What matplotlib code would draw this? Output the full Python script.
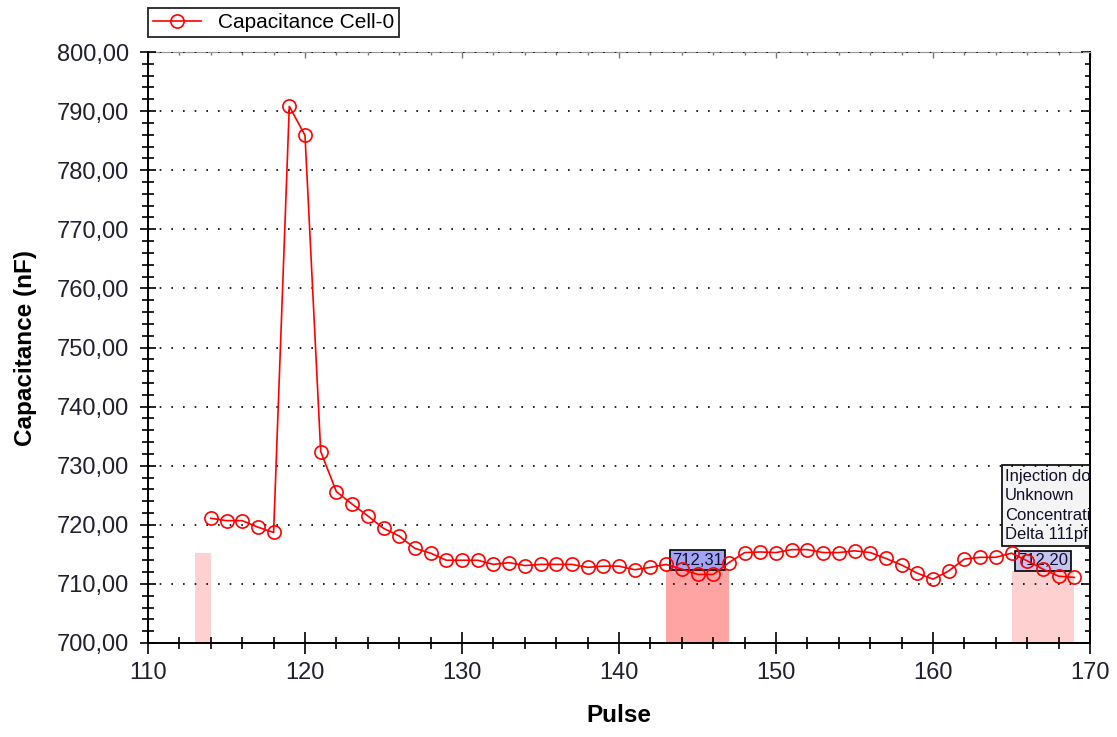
import matplotlib.pyplot as plt
import numpy as np
from matplotlib.ticker import MultipleLocator, FormatStrFormatter

plt.rcParams['font.family'] = ['Liberation Sans', 'DejaVu Sans']

# data
pulse = list(range(114, 170))
capacitance = [721.1, 720.7, 720.7, 719.6, 718.7, 790.8, 785.9, 732.4, 725.6, 723.5,
               721.5, 719.4, 718.1, 716.0, 715.2, 714.0, 714.0, 714.0, 713.3, 713.6,
               713.1, 713.3, 713.3, 713.3, 712.8, 713.0, 713.0, 712.4, 712.8, 713.3,
               712.5, 711.6, 711.6, 713.6, 715.3, 715.4, 715.3, 715.8, 715.8, 715.3,
               715.3, 715.6, 715.3, 714.3, 713.2, 711.8, 710.8, 712.2, 714.2, 714.5,
               714.5, 715.2, 713.9, 712.5, 711.3, 711.1]

region_start = [113, 143, 165]
region_end = [114, 147, 169]
region_top = [715.2, 712.31, 712.20]
region_color = ['#ffd0d0', '#ffa3a3', '#ffd0d0']

marker_pos = [145, 167]
marker_val = [712.31, 712.20]
marker_text = ['712,31', '712,20']
marker_face = ['#a4a4f4', '#c4c4ee']

note_lines = ['Injection done', 'Unknown', 'Concentration', 'Delta 111pf']

fig = plt.figure(figsize=(11.17, 7.37), dpi=100)
ax = fig.add_axes([148/1117, 1-643/737, (1090-148)/1117, (643-52)/737])

for s, e, t, c in zip(region_start, region_end, region_top, region_color):
    ax.bar(s, t - 700, width=e - s, bottom=700, align='edge', color=c, zorder=1)

for x, v, txt, fc in zip(marker_pos, marker_val, marker_text, marker_face):
    ax.text(x, v + 0.45, txt, ha='center', va='bottom', fontsize=12, color='#10102a',
            bbox=dict(boxstyle='square,pad=0.15', facecolor=fc, edgecolor='black', linewidth=1.2),
            zorder=2)

ax.text(164.6, 729.5, '\n'.join(note_lines), ha='left', va='top', fontsize=12,
        linespacing=1.38, color='#10102a', clip_on=True,
        bbox=dict(boxstyle='square,pad=0.2', facecolor='#f4f4f4', edgecolor='black', linewidth=1.2),
        zorder=2)

ax.plot(pulse, capacitance, color='red', linewidth=1.2, marker='o', markersize=9.5,
        markerfacecolor='none', markeredgecolor='red', markeredgewidth=1.2,
        label='Capacitance Cell-0', zorder=3)

ax.set_xlim(110, 170)
ax.set_ylim(700, 800)
ax.xaxis.set_major_locator(MultipleLocator(10))
ax.xaxis.set_minor_locator(MultipleLocator(2))
ax.yaxis.set_major_locator(MultipleLocator(10))
ax.yaxis.set_minor_locator(MultipleLocator(2))
ax.yaxis.set_major_formatter(FormatStrFormatter('%.2f'))
ax.set_yticklabels([f'{v:.2f}'.replace('.', ',') for v in ax.get_yticks()])

ax.grid(axis='y', which='major', linestyle=(0, (1, 6)), color='black', linewidth=1.2)
ax.set_axisbelow(False)

ax.tick_params(axis='x', which='major', direction='inout', length=16, width=1.2, pad=6,
               labelsize=17, labelcolor='#202030')
ax.tick_params(axis='x', which='minor', direction='inout', length=8, width=1.2)
ax.tick_params(axis='y', which='major', direction='inout', length=11, width=1.2, pad=8,
               labelsize=17, labelcolor='#202030')
ax.tick_params(axis='y', which='minor', direction='inout', length=8, width=1.2)

for side in ['left', 'bottom', 'right']:
    ax.spines[side].set_linewidth(1.4)
ax.spines['top'].set_color('#9a9a9a')

right = ax.secondary_yaxis('right')
right.yaxis.set_major_locator(MultipleLocator(10))
right.yaxis.set_minor_locator(MultipleLocator(2))
right.tick_params(which='major', direction='in', length=6.5, width=1.2, labelright=False)
right.tick_params(which='minor', direction='in', length=3.5, width=1.2)
right.spines['right'].set_linewidth(1.4)

top = ax.secondary_xaxis('top')
top.xaxis.set_major_locator(MultipleLocator(10))
top.xaxis.set_minor_locator(MultipleLocator(2))
top.tick_params(which='major', direction='in', length=4, width=1, color='#777777', labeltop=False)
top.tick_params(which='minor', direction='in', length=2.5, width=1, color='#777777')
top.spines['top'].set_color('#9a9a9a')

ax.set_xlabel('Pulse', fontsize=17.5, fontweight='bold', labelpad=14)
ax.set_ylabel('Capacitance (nF)', fontsize=17.5, fontweight='bold', labelpad=14)

leg = ax.legend(loc='lower left', bbox_to_anchor=(0.0, 1.025), fontsize=15, frameon=True,
                fancybox=False, handlelength=2.3, borderpad=0.25, borderaxespad=0)
leg.get_frame().set_edgecolor('black')
leg.get_frame().set_linewidth(1.4)

plt.savefig('out.png', dpi=100)
plt.close()
